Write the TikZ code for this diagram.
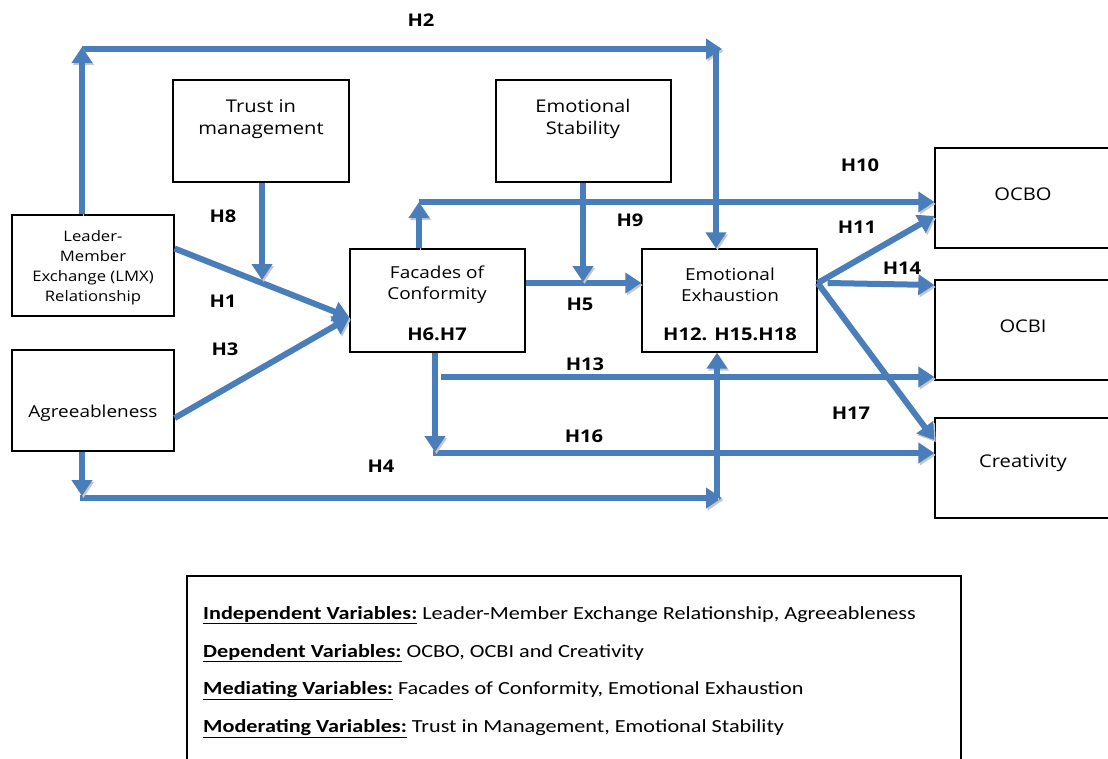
\documentclass[tikz,border=0pt]{standalone}
\usepackage{fontspec}
\usetikzlibrary{arrows.meta}
\newfontfamily\boxfont[FakeStretch=1.15]{Open Sans}
\newfontfamily\legfont[FakeStretch=1.2]{Carlito}
\definecolor{arrowblue}{RGB}{74,126,187}
\begin{document}
\begin{tikzpicture}[x=1pt,y=-1pt,
 box/.style={draw=black, line width=1.3pt, fill=white, inner sep=0pt},
 arr/.style={draw=arrowblue, line width=6pt, -{Triangle[length=16pt,width=20pt]},
   preaction={draw=black!22, transform canvas={shift={(1.5pt,-2pt)}}}},
 lbl/.style={font=\boxfont\bfseries\fontsize{17.5}{20}\selectfont, inner sep=0pt},
 btxt/.style={font=\boxfont\fontsize{17.5}{22}\selectfont, align=center, inner sep=0pt},
 stxt/.style={font=\boxfont\fontsize{14.5}{20}\selectfont, align=center, inner sep=0pt},
 ltxt/.style={font=\legfont\fontsize{18.5}{21}\selectfont, anchor=west, inner sep=0pt},
]
\useasboundingbox (0,0) rectangle (1108,758);

% boxes
\node[box, minimum width=162pt, minimum height=101pt] (lmx)   at (93,265.5) {};
\node[box, minimum width=176pt, minimum height=102pt] (trust) at (261,131) {};
\node[box, minimum width=162pt, minimum height=101pt] (agree) at (93,400.5) {};
\node[box, minimum width=175pt, minimum height=102pt] (es)    at (583.5,131) {};
\node[box, minimum width=175pt, minimum height=103pt] (fac)   at (437.5,300.5) {};
\node[box, minimum width=175pt, minimum height=103pt] (ee)    at (729.5,300.5) {};
\node[box, minimum width=180pt, minimum height=100pt] (ocbo)  at (1025,198) {};
\node[box, minimum width=180pt, minimum height=100pt] (ocbi)  at (1025,330) {};
\node[box, minimum width=180pt, minimum height=100pt] (crea)  at (1025,468) {};
\node[box, minimum width=774pt, minimum height=199pt] (legend) at (574,675.5) {};

% box texts
\node[stxt] (lmxT) at (93,268) {Leader-\\Member\\Exchange (LMX)\\Relationship};
\node[btxt] (trustT) at (261,119) {Trust in\\management};
\node[btxt, font=\boxfont\fontsize{16.5}{20}\selectfont] (agreeT) at (93,413) {Agreeableness};
\node[btxt] (esT) at (583,119) {Emotional\\Stability};
\node[btxt, font=\boxfont\fontsize{16.5}{21}\selectfont] (facT) at (437,285) {Facades of\\Conformity};
\node[lbl] (facH) at (437,334) {H6.H7};
\node[btxt, font=\boxfont\fontsize{16.5}{21}\selectfont] (eeT) at (730,285) {Emotional\\Exhaustion};
\node[lbl] (eeH) at (730,334) {H12. H15.H18};
\node[btxt] (ocboT) at (1023,194) {OCBO};
\node[btxt] (ocbiT) at (1023,326) {OCBI};
\node[btxt] (creaT) at (1023,463) {Creativity};

% coordinates
\coordinate (h2a) at (82,49);
\coordinate (h2b) at (722,49);
\coordinate (h2c) at (716,49);
\coordinate (h8e) at (262,280);
\coordinate (h10a) at (419,202);
\coordinate (h13a) at (441,377);
\coordinate (h16a) at (435,453);
\coordinate (h4a) at (82,498);
\coordinate (h4b) at (722,498);
\coordinate (h4c) at (717,498);
\coordinate (h5y) at (583,282);

% horizontal connectors first
\draw[arr] (h2a) -- (h2b);
\draw[arr] (h10a) -- (h10a -| ocbo.west);
\draw[arr] (h13a) -- (h13a -| ocbi.west);
\draw[arr] ([xshift=-2pt]h16a) -- (h16a -| crea.west);
\draw[arr] ([xshift=-2pt]h4a) -- (h4b);
\draw[arr] ([yshift=17.5pt]fac.east) -- ([yshift=17.5pt]ee.west);
\draw[arr] ([xshift=10pt,yshift=17.5pt]ee.east) -- ([yshift=45pt]ocbi.west);
% diagonals
\draw[arr] ([yshift=17pt]lmx.east) -- ([yshift=-17pt]fac.west);
\draw[arr] ([yshift=-17.5pt]agree.east) -- ([yshift=-17pt]fac.west);
\draw[arr] ([yshift=17.5pt]ee.east) -- ([yshift=-18pt]ocbo.west);
\draw[arr] ([yshift=17.5pt]ee.east) -- ([yshift=28pt]crea.west);
% verticals
\draw[arr] (lmx.north -| h2a) -- ([yshift=2pt]h2a);
\draw[arr] (h2c) -- (h2c |- ee.north);
\draw[arr] (trust.south -| h8e) -- (h8e);
\draw[arr] (fac.north -| h10a) -- (h10a);
\draw[arr] (es.south -| h5y) -- (h5y);
\draw[arr] (fac.south -| h16a) -- ([yshift=1pt]h16a);
\draw[arr] (agree.south -| h4a) -- ([yshift=2pt]h4a);
\draw[arr] (h4c) -- (h4c |- ee.south);

% hypothesis labels
\node[lbl] (lH2)  at (421,20) {H2};
\node[lbl] (lH8)  at (223,216) {H8};
\node[lbl] (lH1)  at (223,301) {H1};
\node[lbl] (lH3)  at (225,349) {H3};
\node[lbl] (lH10) at (860,165) {H10};
\node[lbl] (lH9)  at (630,220) {H9};
\node[lbl] (lH11) at (857,227) {H11};
\node[lbl] (lH14) at (902,268) {H14};
\node[lbl] (lH5)  at (580,304) {H5};
\node[lbl] (lH13) at (585,364) {H13};
\node[lbl] (lH17) at (851,413) {H17};
\node[lbl] (lH16) at (584,436) {H16};
\node[lbl] (lH4)  at (381,466) {H4};

% legend
\node[ltxt] (leg1) at (203,615) {\underline{\textbf{Independent Variables:}} Leader-Member Exchange Relationship, Agreeableness};
\node[ltxt] (leg2) at (203,653) {\underline{\textbf{Dependent Variables:}} OCBO, OCBI and Creativity};
\node[ltxt] (leg3) at (203,691) {\underline{\textbf{Mediating Variables:}} Facades of Conformity, Emotional Exhaustion};
\node[ltxt] (leg4) at (203,729) {\underline{\textbf{Moderating Variables:}} Trust in Management, Emotional Stability};
\end{tikzpicture}
\end{document}
